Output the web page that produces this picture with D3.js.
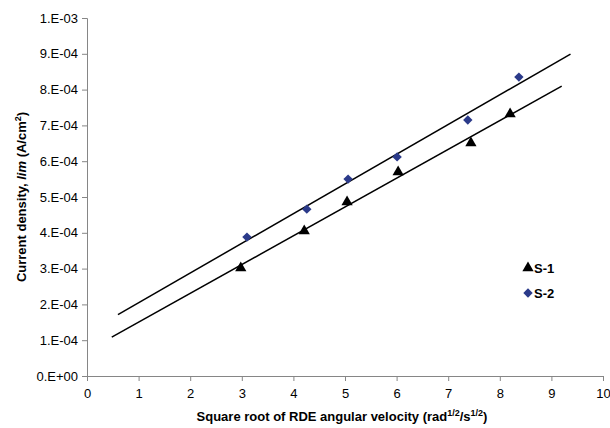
<!DOCTYPE html>
<html>
<head>
<meta charset="utf-8">
<script src="https://cdn.jsdelivr.net/npm/d3@7"></script>
<style>
  body { margin: 0; background: #fff; }
  text { font-family: "Liberation Sans", Arial, sans-serif; }
</style>
</head>
<body>
<div class="chartWrap"></div>
<script>
var width = 610,
  height = 428,
  margin = {top: 18, right: 7, bottom: 52, left: 87};

// values
var xTicks = [0, 1, 2, 3, 4, 5, 6, 7, 8, 9, 10],
  yTicks = [0, 1e-4, 2e-4, 3e-4, 4e-4, 5e-4, 6e-4, 7e-4, 8e-4, 9e-4, 1e-3],
  yTickLabels = ['0.E+00', '1.E-04', '2.E-04', '3.E-04', '4.E-04', '5.E-04', '6.E-04', '7.E-04', '8.E-04', '9.E-04', '1.E-03'],
  s1X = [2.98, 4.21, 5.04, 6.03, 7.44, 8.20],
  s1Y = [3.02e-4, 4.05e-4, 4.86e-4, 5.70e-4, 6.51e-4, 7.32e-4],
  s2X = [3.10, 4.26, 5.06, 6.01, 7.38, 8.37],
  s2Y = [3.88e-4, 4.66e-4, 5.50e-4, 6.12e-4, 7.15e-4, 8.35e-4],
  seriesNames = ['S-1', 'S-2'];

var navy = '#2b3a8a',
  axisColor = '#868686';

var svg = d3.select('.chartWrap')
  .append('svg')
  .attr('width', width)
  .attr('height', height);

var x = d3.scaleLinear().domain([0, 10]).range([margin.left, width - margin.right]);
var y = d3.scaleLinear().domain([0, 1e-3]).range([height - margin.bottom, margin.top]);

// y axis
var yAxis = d3.axisLeft(y)
  .tickValues(yTicks)
  .tickSize(5)
  .tickFormat(function(d, i){ return yTickLabels[i]; });
var gy = svg.append('g')
  .attr('transform', 'translate(' + margin.left + ',0)')
  .call(yAxis);

// x axis
var xAxis = d3.axisBottom(x)
  .tickValues(xTicks)
  .tickSize(5)
  .tickFormat(d3.format('d'));
var gx = svg.append('g')
  .attr('transform', 'translate(0,' + (height - margin.bottom) + ')')
  .call(xAxis);

[gx, gy].forEach(function(g){
  g.select('.domain').attr('stroke', axisColor).attr('stroke-width', 1);
  g.selectAll('.tick line').attr('stroke', axisColor);
  g.selectAll('.tick text')
    .attr('fill', '#000')
    .style('font-size', '13px')
    .style('font-family', '"Liberation Sans", Arial, sans-serif');
});
gy.selectAll('.tick text').attr('x', -9);
gx.selectAll('.tick text').attr('y', 13);

// trend lines: least squares, forecast backward 2.5 and forward 1
var fit = function(xs, ys){
  var mx = d3.mean(xs), my = d3.mean(ys), sxy = 0, sxx = 0;
  xs.forEach(function(v, i){
    sxy += (v - mx) * (ys[i] - my);
    sxx += (v - mx) * (v - mx);
  });
  var m = sxy / sxx, b = my - m * mx;
  var x0 = d3.min(xs) - 2.5, x1 = d3.max(xs) + 1;
  return [[x0, m * x0 + b], [x1, m * x1 + b]];
};

var line = d3.line()
  .x(function(d){ return x(d[0]); })
  .y(function(d){ return y(d[1]); });

[fit(s1X, s1Y), fit(s2X, s2Y)].forEach(function(pts){
  svg.append('path')
    .attr('d', line(pts))
    .attr('fill', 'none')
    .attr('stroke', '#000')
    .attr('stroke-width', 1.5);
});

var tri = d3.symbol().type(d3.symbolTriangle).size(55);
var dia = d3.symbol().type(d3.symbolSquare).size(44);

// S-1 triangles
svg.selectAll('.s1')
  .data(s1X)
  .enter()
    .append('path')
    .attr('class', 's1')
    .attr('d', tri)
    .attr('transform', function(d, i){ return 'translate(' + x(d) + ',' + y(s1Y[i]) + ')'; })
    .attr('fill', '#000');

// S-2 diamonds
svg.selectAll('.s2')
  .data(s2X)
  .enter()
    .append('path')
    .attr('class', 's2')
    .attr('d', dia)
    .attr('transform', function(d, i){ return 'translate(' + x(d) + ',' + y(s2Y[i]) + ') rotate(45)'; })
    .attr('fill', navy);

// legend
var legend = svg.append('g').attr('transform', 'translate(528,268)');
legend.append('path').attr('d', tri).attr('fill', '#000');
legend.append('path').attr('d', dia).attr('transform', 'translate(0,25) rotate(45)').attr('fill', navy);
legend.selectAll('text')
  .data(seriesNames)
  .enter()
    .append('text')
    .attr('x', 6)
    .attr('y', function(d, i){ return i * 25 + 5; })
    .style('font-size', '13px')
    .style('font-weight', 'bold')
    .text(function(d){ return d; });

// axis titles
var xt = svg.append('text')
  .attr('x', 342)
  .attr('y', 421)
  .attr('text-anchor', 'middle')
  .style('font-size', '13px')
  .style('font-weight', 'bold');
xt.append('tspan').text('Square root of RDE angular velocity (rad');
xt.append('tspan').attr('dy', -5).style('font-size', '9px').text('1/2');
xt.append('tspan').attr('dy', 5).text('/s');
xt.append('tspan').attr('dy', -5).style('font-size', '9px').text('1/2');
xt.append('tspan').attr('dy', 5).text(')');

var yt = svg.append('text')
  .attr('transform', 'translate(26,197) rotate(-90)')
  .attr('text-anchor', 'middle')
  .style('font-size', '13px')
  .style('font-weight', 'bold');
yt.append('tspan').text('Current density, ');
yt.append('tspan').style('font-style', 'italic').text('lim');
yt.append('tspan').text('  (A/cm');
yt.append('tspan').attr('dy', -5).style('font-size', '9px').text('2');
yt.append('tspan').attr('dy', 5).text(')');
</script>
</body>
</html>
